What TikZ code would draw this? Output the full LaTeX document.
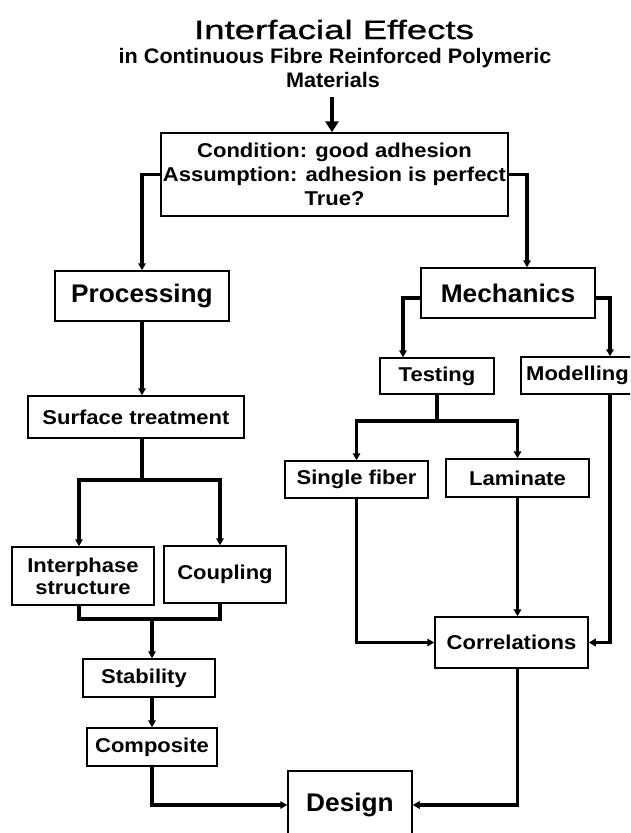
\documentclass[tikz,border=0pt]{standalone}
\usepackage{fontspec}
\setmainfont{Liberation Sans}
\newfontfamily\titlef{Liberation Sans}[FakeStretch=1.38,FakeBold=1.2]
\newfontfamily\subf{Liberation Sans}[FakeStretch=1.03]
\newfontfamily\boxf{Liberation Sans}[FakeStretch=1.1]
\newfontfamily\bigf{Liberation Sans}[FakeStretch=1.03]
\usetikzlibrary{arrows.meta}
\tikzset{
  box/.style={draw, line width=1.5pt, inner sep=0pt, align=center,
    font=\boxf\bfseries\fontsize{20}{22}\selectfont},
  bigbox/.style={box, font=\bigf\bfseries\fontsize{25.5}{30}\selectfont},
  lineonly/.style={line width=3.2pt, line join=miter},
  conn/.style={lineonly, -{Triangle[length=7pt,width=7.5pt]}},
  bigconn/.style={line width=4pt, -{Triangle[length=11pt,width=13pt]}},
  plain/.style={inner sep=0pt, anchor=base}
}
\begin{document}
\begin{tikzpicture}[x=1pt,y=-1pt]
\clip (0,0) rectangle (630,833);
\fill[white] (0,0) rectangle (630,833);

% titles
\node[plain, font=\titlef\fontsize{26.5}{30}\selectfont] (title) at (334,39) {Interfacial Effects};
\node[plain, font=\subf\bfseries\fontsize{21}{24}\selectfont] (subtitle) at (335,63) {in Continuous Fibre Reinforced Polymeric};
\node[plain, font=\subf\bfseries\fontsize{21}{24}\selectfont] (mat) at (333,87) {Materials};

% boxes
\node[box, minimum width=347pt, minimum height=83pt, font=\boxf\bfseries\fontsize{20}{24}\selectfont] (top) at (334.5,174.5)
  {Condition: good adhesion\\Assumption: adhesion is perfect\\True?};
\node[bigbox, minimum width=174pt, minimum height=50pt] (proc) at (142,296) {Processing};
\node[bigbox, minimum width=174pt, minimum height=50pt] (mech) at (508,293) {Mechanics};
\node[box, minimum width=216pt, minimum height=42pt] (surf) at (136,417) {Surface treatment};
\node[box, minimum width=142pt, minimum height=58pt] (inter) at (83,576) {Interphase\\structure};
\node[box, minimum width=122pt, minimum height=57pt] (coup) at (225,574.5) {Coupling};
\node[box, minimum width=132pt, minimum height=38pt] (stab) at (149,678) {Stability\hspace{10pt}};
\node[box, minimum width=130pt, minimum height=38pt] (comp) at (152,747) {Composite};
\node[bigbox, minimum width=124pt, minimum height=68pt] (design) at (350,805) {Design};
\node[box, minimum width=114pt, minimum height=36pt] (test) at (437,376) {Testing};
\node[box, minimum width=113pt, minimum height=37pt] (model) at (577.5,375.5) {Modelling};
\node[box, minimum width=143pt, minimum height=37pt] (single) at (356.5,479.5) {Single fiber};
\node[box, minimum width=143pt, minimum height=38pt] (lam) at (517.5,478) {Laminate};
\node[box, minimum width=153pt, minimum height=51pt] (corr) at (511.5,642.5) {Correlations};

% connectors
\coordinate (arrtop) at (332,97);
\draw[bigconn] (arrtop) -- (arrtop |- top.north);
\draw[conn] (top.west) -| (proc.north);
\draw[conn] (top.east) -| ([xshift=19pt]mech.north);

\draw[conn] (proc.south) -- (proc.south |- surf.north);
\coordinate (sj) at (142,480);
\draw[lineonly] (proc.south |- surf.south) -- (sj);
\draw[conn] (sj) -| ([xshift=-4pt]inter.north);
\draw[conn] (sj) -| ([xshift=-5pt]coup.north);

\coordinate (bj) at (152,619);
\draw[lineonly] ([xshift=-4pt]inter.south) |- ([xshift=-5pt]coup.south |- bj) -- ([xshift=-5pt]coup.south);
\draw[conn] (bj) -- (bj |- stab.north);
\draw[conn] (bj |- stab.south) -- (bj |- comp.north);
\draw[conn] (bj |- comp.south) |- (design.west);

\draw[conn] ([yshift=-5pt]mech.west) -| ([xshift=-34pt]test.north);
\draw[conn] ([yshift=-5pt]mech.east) -| ([xshift=32.5pt]model.north);

\coordinate (tj) at (437,421);
\draw[lineonly] (test.south) -- (tj);
\draw[conn] (tj) -| (single.north);
\draw[conn] (tj) -| (lam.north);

\draw[conn] (single.south) |- (corr.west);
\draw[conn] (lam.south) -- (lam.south |- corr.north);
\draw[conn] ([xshift=32.5pt]model.south) |- (corr.east);
\draw[conn] ([xshift=6pt]corr.south) |- (design.east);
\end{tikzpicture}
\end{document}
